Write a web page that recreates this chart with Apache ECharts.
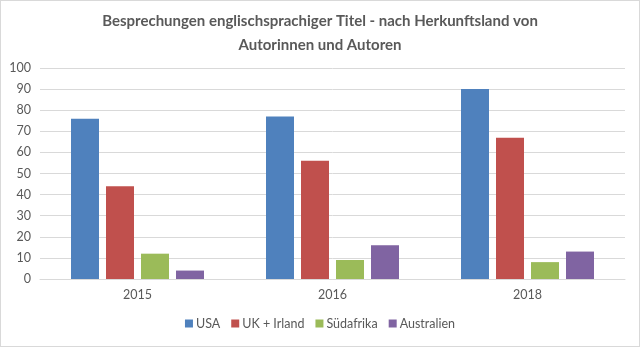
<!DOCTYPE html>
<html>
<head>
<meta charset="utf-8">
<script src="https://cdn.jsdelivr.net/npm/echarts@6/dist/echarts.min.js"></script>
<style>
  html, body { margin: 0; padding: 0; background: #fff; }
  #chart { width: 638px; height: 345px; border: 1px solid #d9d9d9; }
</style>
</head>
<body>
<div id="chart"></div>
<script>
const years = ['2015', '2016', '2018'];
const seriesNames = ['USA', 'UK + Irland', 'Südafrika', 'Australien'];
const usa = [76, 77, 90];
const ukIrland = [44, 56, 67];
const suedafrika = [12, 9, 8];
const australien = [4, 16, 13];
const yTicks = [0, 10, 20, 30, 40, 50, 60, 70, 80, 90, 100];
const colors = ['#4f81bd', '#c0504d', '#9bbb59', '#8064a2'];

const values = [usa, ukIrland, suedafrika, australien];
const font = 'Lato, "Open Sans", sans-serif';

const chart = echarts.init(document.getElementById('chart'));
chart.setOption({
  animation: false,
  color: colors,
  title: {
    text: 'Besprechungen englischsprachiger Titel - nach Herkunftsland von\nAutorinnen und Autoren',
    left: 'center',
    top: 3,
    textStyle: { fontFamily: font, fontSize: 15, fontWeight: 'bold', color: '#595959', lineHeight: 24 }
  },
  legend: {
    bottom: 11,
    left: 'center',
    itemWidth: 8,
    itemHeight: 8,
    itemGap: 11,
    icon: 'rect',
    textStyle: { fontFamily: font, fontSize: 12.5, color: '#595959', padding: [0, 0, 0, -2] },
    data: seriesNames
  },
  grid: { left: 39, right: 14, top: 67, bottom: 67 },
  xAxis: {
    type: 'category',
    data: years,
    axisLine: { lineStyle: { color: '#d9d9d9' } },
    axisTick: { show: false },
    axisLabel: { fontFamily: font, fontSize: 12.5, color: '#595959', margin: 9 }
  },
  yAxis: {
    type: 'value',
    min: yTicks[0],
    max: yTicks[yTicks.length - 1],
    interval: yTicks[1] - yTicks[0],
    axisLine: { show: false },
    axisTick: { show: false },
    splitLine: { lineStyle: { color: '#d9d9d9' } },
    axisLabel: { fontFamily: font, fontSize: 12.5, color: '#595959', margin: 9 }
  },
  series: seriesNames.map((name, i) => ({
    name: name,
    type: 'bar',
    data: values[i],
    barWidth: 28,
    barGap: '25%',
    itemStyle: { color: colors[i] }
  }))
});
</script>
</body>
</html>
